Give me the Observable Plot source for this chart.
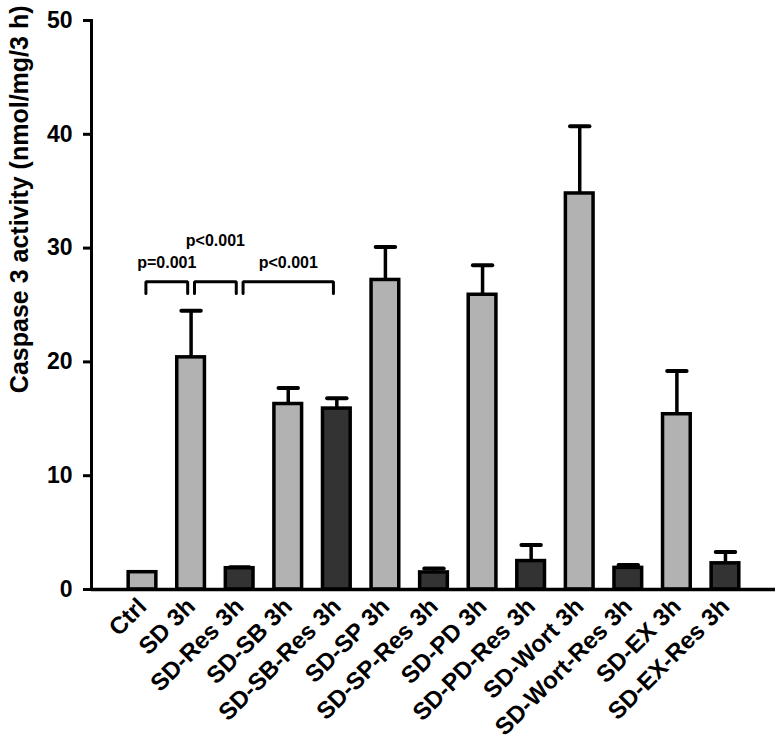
<!DOCTYPE html>
<html>
<head>
<meta charset="utf-8">
<script src="https://cdn.jsdelivr.net/npm/d3@7"></script>
<script src="https://cdn.jsdelivr.net/npm/@observablehq/plot@0.6"></script>
<style>
  html, body { margin: 0; padding: 0; background: #fff; }
  #chart { width: 780px; height: 746px; }
</style>
</head>
<body>
<div id="chart"></div>
<script>
// ---- data ----
const categories = ["Ctrl", "SD 3h", "SD-Res 3h", "SD-SB 3h", "SD-SB-Res 3h", "SD-SP 3h", "SD-SP-Res 3h",
  "SD-PD 3h", "SD-PD-Res 3h", "SD-Wort 3h", "SD-Wort-Res 3h", "SD-EX 3h", "SD-EX-Res 3h"];
const means = [1.52, 20.4, 1.87, 16.3, 15.9, 27.2, 1.5, 25.9, 2.5, 34.8, 1.9, 15.4, 2.3];
const upperErr = [1.52, 24.5, 1.95, 17.7, 16.8, 30.1, 1.85, 28.5, 3.9, 40.7, 2.15, 19.2, 3.3];
const yTicks = [0, 10, 20, 30, 40, 50];
const yLabel = "Caspase 3 activity (nmol/mg/3 h)";
// significance brackets: [from category, to category, label, label level]
const bracketFrom = ["Ctrl", "SD 3h", "SD-Res 3h"];
const bracketTo = ["SD 3h", "SD-Res 3h", "SD-SB-Res 3h"];
const bracketText = ["p=0.001", "p<0.001", "p<0.001"];
const bracketTop = 27.05;
const bracketLeg = 26.0;
const textLevel = [28.7, 30.6, 28.7];

// ---- build ----
const rows = categories.map((c, i) => ({
  i, name: c, mean: means[i], upper: upperErr[i], dark: c.includes("Res")
}));
const errRows = rows.filter(d => d.upper > d.mean + 0.01);
const idx = (c) => categories.indexOf(c);
const inset = 0.07;
const bracketPts = [];
bracketFrom.forEach((f, k) => {
  const a = idx(f) + inset, b = idx(bracketTo[k]) - inset;
  bracketPts.push({k, x: a, y: bracketLeg}, {k, x: a, y: bracketTop}, {k, x: b, y: bracketTop}, {k, x: b, y: bracketLeg});
});
const pLabels = bracketText.map((t, k) => ({
  t, x: (idx(bracketFrom[k]) + idx(bracketTo[k])) / 2, y: textLevel[k]
}));

const font = "'Liberation Sans', Arial, Helvetica, sans-serif";

const chart = Plot.plot({
  width: 780,
  height: 746,
  marginTop: 20,
  marginBottom: 157,
  marginLeft: 91,
  marginRight: 5,
  style: { fontFamily: font, fontWeight: "bold", color: "#000", background: "#fff" },
  x: { type: "linear", domain: [-1.05, 13.03] },
  y: { domain: [0, 50] },
  marks: [
    Plot.axisY({ ticks: yTicks, tickSize: 8, tickPadding: 11, fontSize: 23, fontWeight: "bold", strokeWidth: 3, label: null }),
    Plot.axisX({ ticks: rows.map(d => d.i), tickFormat: i => categories[i], tickRotate: -45, tickSize: 0, tickPadding: 13, fontSize: 24, fontWeight: "bold", label: null }),
    Plot.frame({ anchor: "left", strokeWidth: 3 }),
    Plot.ruleX(errRows, { x: "i", y1: "mean", y2: "upper", strokeWidth: 3.5, stroke: "#000" }),
    Plot.link(errRows, { x1: d => d.i - 0.2, x2: d => d.i + 0.2, y1: "upper", y2: "upper", strokeWidth: 4, strokeLinecap: "round", stroke: "#000" }),
    Plot.rectY(rows, { x1: d => d.i - 0.285, x2: d => d.i + 0.285, y1: 0, y2: "mean",
      fill: d => d.dark ? "#333333" : "#b2b2b2", stroke: "#000", strokeWidth: 3.5 }),
    Plot.ruleY([0], { strokeWidth: 3.5, stroke: "#000" }),
    Plot.line(bracketPts, { x: "x", y: "y", z: "k", stroke: "#000", strokeWidth: 3, strokeLinejoin: "miter", curve: "linear" }),
    Plot.text(pLabels, { x: "x", y: "y", text: "t", fontSize: 16, fontWeight: "bold", fill: "#000", lineAnchor: "middle" }),
    Plot.text([yLabel], { frameAnchor: "top-left", text: d => d, rotate: -90, textAnchor: "end", lineAnchor: "middle",
      dx: -72, dy: -15, fontSize: 25, fontWeight: "bold", fill: "#000" })
  ]
});
document.getElementById("chart").appendChild(chart);
</script>
</body>
</html>
